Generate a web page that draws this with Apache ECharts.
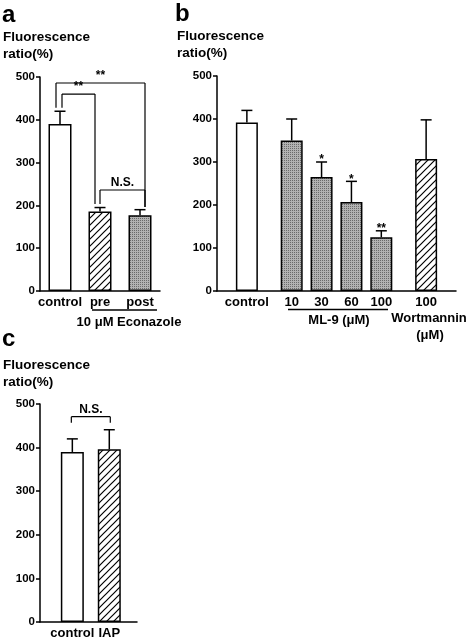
<!DOCTYPE html>
<html><head><meta charset="utf-8">
<script src="https://cdn.jsdelivr.net/npm/echarts@6/dist/echarts.min.js"></script>
<style>html,body{margin:0;background:#fff}#c{width:472px;height:640px}</style>
</head><body><div id="c"></div>
<script>
// ---------- data ----------
// Panel a
const aCategories = ['control', 'pre', 'post'];
const aValues = [390, 186, 177];
const aErrTop = [420, 195, 190];
const aFills = ['white', 'hatch', 'grey'];
// significance brackets: [fromIndex, toIndex, level, lowFrom, lowTo, label]
const aBrackets = [
  [0, 2, 486, 428, 196, '**'],
  [0, 1, 460, 428, 203, '**'],
  [1, 2, 236, 203, 196, 'N.S.']
];
// Panel b
const bCategories = ['control', '10', '30', '60', '100', '100'];
const bValues = [392, 350, 265, 207, 125, 307];
const bErrTop = [420, 400, 300, 255, 140, 398];
const bStars = ['', '', '*', '*', '**', ''];
const bFills = ['white', 'grey', 'grey', 'grey', 'grey', 'hatch'];
// Panel c
const cCategories = ['control', 'IAP'];
const cValues = [390, 396];
const cErrTop = [420, 441];
const cFills = ['white', 'hatch'];
const cBrackets = [[0, 1, 471, 457, 457, 'N.S.']];
// y-axis ticks
const yTicks = [0, 100, 200, 300, 400, 500];

// ---------- layout helpers ----------
const FONT = '"Liberation Sans", Arial, Helvetica, sans-serif';
const aSlots = [0, 1, 2];
const bSlots = [2, 5, 7, 9, 11, 14], bSlotCount = 17;
const cSlots = [7, 15], cSlotCount = 22;
const aBracketDx = [[-4, 5], [2, -5], [0, 5]];
const cBracketDx = [[-1, 1]];

function makeHatch() {
  const c = document.createElement('canvas'); c.width = 7; c.height = 7;
  const g = c.getContext('2d');
  g.fillStyle = '#fff'; g.fillRect(0, 0, 7, 7);
  g.strokeStyle = '#000'; g.lineWidth = 1.2;
  g.beginPath();
  g.moveTo(0, 7); g.lineTo(7, 0);
  g.moveTo(-1, 1); g.lineTo(1, -1);
  g.moveTo(6, 8); g.lineTo(8, 6);
  g.stroke();
  return c.toDataURL();
}
function makeGrey() {
  const c = document.createElement('canvas'); c.width = 2; c.height = 2;
  const g = c.getContext('2d');
  g.fillStyle = '#b2b2b2'; g.fillRect(0, 0, 2, 2);
  g.fillStyle = '#6a6a6a'; g.fillRect(0, 0, 1, 1);
  return c.toDataURL();
}
const hatchImg = makeHatch(), greyImg = makeGrey();
function fill(k) {
  if (k === 'hatch') return { image: hatchImg, repeat: 'repeat' };
  if (k === 'grey') return { image: greyImg, repeat: 'repeat' };
  return '#ffffff';
}

function slotAxis(cats, slots, n) {
  const arr = new Array(n).fill('');
  slots.forEach((s, i) => arr[s] = cats[i]);
  return arr;
}

function yAxisOf(idx) {
  return {
    type: 'value', gridIndex: idx, min: yTicks[0], max: yTicks[yTicks.length - 1], interval: 100,
    splitLine: { show: false },
    axisLine: { show: true, lineStyle: { color: '#000', width: 1.5 } },
    axisTick: { show: true, length: 4, lineStyle: { color: '#000', width: 1.5 } },
    axisLabel: { color: '#000', fontWeight: 'bold', fontSize: 11.5, fontFamily: FONT, margin: 5 }
  };
}
function xAxisOf(idx, data, boundaryGap) {
  return {
    type: 'category', gridIndex: idx, data: data, boundaryGap: boundaryGap,
    axisLine: { show: true, lineStyle: { color: '#000', width: 1.5 } },
    axisTick: { show: false },
    axisLabel: { color: '#000', fontWeight: 'bold', fontSize: 13, fontFamily: FONT, margin: 5, interval: 0 }
  };
}

function barSeries(idx, xs, vals, fills, width) {
  return {
    type: 'bar', xAxisIndex: idx, yAxisIndex: idx, barWidth: width, z: 2,
    data: vals.map((v, i) => ({ value: [xs[i], v], itemStyle: { color: fill(fills[i]) } })),
    itemStyle: { borderColor: '#000', borderWidth: 1.5 },
    emphasis: { disabled: true }, silent: true
  };
}
function errSeries(idx, xs, vals, tops, stars) {
  return {
    type: 'custom', xAxisIndex: idx, yAxisIndex: idx, z: 3, silent: true, clip: false,
    data: vals.map((v, i) => [xs[i], v, tops[i]]),
    renderItem: function (params, api) {
      const x = api.value(0);
      const p0 = api.coord([x, api.value(1)]);
      const p1 = api.coord([x, api.value(2)]);
      const ch = [
        { type: 'line', shape: { x1: p0[0], y1: p0[1], x2: p1[0], y2: p1[1] }, style: { stroke: '#000', lineWidth: 1.5 } },
        { type: 'line', shape: { x1: p1[0] - 5.5, y1: p1[1], x2: p1[0] + 5.5, y2: p1[1] }, style: { stroke: '#000', lineWidth: 1.5 } }
      ];
      const s = stars ? stars[params.dataIndex] : '';
      if (s) ch.push({ type: 'text', style: { text: s, x: p1[0], y: p1[1] - 2, align: 'center', verticalAlign: 'middle', fill: '#000', font: 'bold 12px ' + FONT } });
      return { type: 'group', children: ch };
    }
  };
}
function bracketSeries(idx, brackets, slots, dx) {
  return {
    type: 'custom', xAxisIndex: idx, yAxisIndex: idx, z: 4, silent: true, clip: false,
    data: brackets.map(b => [slots[b[0]], slots[b[1]], b[2], b[3], b[4]]),
    renderItem: function (params, api) {
      const i = params.dataIndex;
      const pf = api.coord([api.value(0), api.value(2)]), pt = api.coord([api.value(1), api.value(2)]);
      const lf = api.coord([api.value(0), api.value(3)]), lt = api.coord([api.value(1), api.value(4)]);
      const x1 = pf[0] + dx[i][0], x2 = pt[0] + dx[i][1];
      const st = { stroke: '#000', lineWidth: 1.2 };
      return {
        type: 'group', children: [
          { type: 'line', shape: { x1: x1, y1: pf[1], x2: x2, y2: pf[1] }, style: st },
          { type: 'line', shape: { x1: x1, y1: pf[1], x2: x1, y2: lf[1] }, style: st },
          { type: 'line', shape: { x1: x2, y1: pf[1], x2: x2, y2: lt[1] }, style: st },
          { type: 'text', style: { text: brackets[i][5], x: (x1 + x2) / 2, y: pf[1] - 1, align: 'center', verticalAlign: 'bottom', fill: '#000', font: 'bold 12px ' + FONT } }
        ]
      };
    }
  };
}

function txt(text, x, y, size, align) {
  return { type: 'text', x: x, y: y, silent: true,
    style: { text: text, fill: '#000', font: 'bold ' + size + 'px ' + FONT, align: align || 'left', verticalAlign: 'middle', lineHeight: size + 3 } };
}
function hline(x1, x2, y) {
  return { type: 'line', silent: true, shape: { x1: x1, y1: y, x2: x2, y2: y }, style: { stroke: '#000', lineWidth: 1.5 } };
}

const chart = echarts.init(document.getElementById('c'), null, { renderer: 'canvas' });
chart.setOption({
  backgroundColor: '#fff',
  animation: false,
  grid: [
    { left: 40, top: 77, width: 120, height: 214 },
    { left: 217, top: 76, width: 239, height: 215 },
    { left: 40, top: 404, width: 97, height: 219 }
  ],
  xAxis: [
    xAxisOf(0, aCategories, true),
    xAxisOf(1, slotAxis(bCategories, bSlots, bSlotCount), false),
    xAxisOf(2, slotAxis(cCategories, cSlots, cSlotCount), false)
  ],
  yAxis: [yAxisOf(0), yAxisOf(1), yAxisOf(2)],
  series: [
    barSeries(0, aSlots, aValues, aFills, 23),
    errSeries(0, aSlots, aValues, aErrTop, null),
    bracketSeries(0, aBrackets, aSlots, aBracketDx),
    barSeries(1, bSlots, bValues, bFills, 22),
    errSeries(1, bSlots, bValues, bErrTop, bStars),
    barSeries(2, cSlots, cValues, cFills, 23),
    errSeries(2, cSlots, cValues, cErrTop, null),
    bracketSeries(2, cBrackets, cSlots, cBracketDx)
  ],
  graphic: [
    txt('a', 2, 15, 24),
    txt('b', 175, 14, 24),
    txt('c', 2, 339, 24),
    txt('Fluorescence\nratio(%)', 3, 46, 13.5),
    txt('Fluorescence\nratio(%)', 177, 45, 13.5),
    txt('Fluorescence\nratio(%)', 3, 374, 13.5),
    hline(92, 157, 310),
    txt('10 μM Econazole', 129, 322, 13, 'center'),
    hline(288, 388, 309.5),
    txt('ML-9 (μM)', 339, 320, 13, 'center'),
    txt('Wortmannin', 429, 318, 13, 'center'),
    txt('(μM)', 430, 335, 13, 'center')
  ]
});
</script>
</body></html>
